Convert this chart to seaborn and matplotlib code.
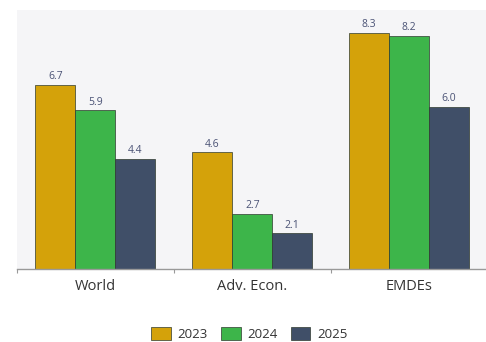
import matplotlib
matplotlib.use("Agg")
import matplotlib.pyplot as plt
import seaborn as sns
import pandas as pd
from matplotlib.ticker import FixedLocator

# Growth by economy group and year
regions = ["World", "Adv. Econ.", "EMDEs"]
years = ["2023", "2024", "2025"]
values_2023 = [6.7, 4.6, 8.3]
values_2024 = [5.9, 2.7, 8.2]
values_2025 = [4.4, 2.1, 6.0]

colors = ["#D4A20A", "#3DB54A", "#404F68"]

rows = []
for yr, vals in zip(years, [values_2023, values_2024, values_2025]):
    for reg, v in zip(regions, vals):
        rows.append({"region": reg, "year": yr, "value": v})
df = pd.DataFrame(rows)

sns.set_theme(style="white")
plt.rcParams["font.family"] = ["Open Sans", "DejaVu Sans"]

fig = plt.figure(figsize=(4.86, 3.42), dpi=100)
ax = fig.add_axes([0.035, 0.2135, 0.965, 0.757])
ax.set_facecolor("#F5F5F7")

sns.barplot(data=df, x="region", y="value", hue="year", order=regions,
            hue_order=years, palette=colors, width=0.765,
            edgecolor="#2f3a2f", linewidth=0.5, saturation=1, ax=ax)

for cont in ax.containers:
    ax.bar_label(cont, fmt="%.1f", padding=2, fontsize=7.5, color="#4A5275")

ax.set_ylim(1, 9)
ax.set_xlim(-0.5, 2.49)
ax.set_xlabel("")
ax.set_ylabel("")
ax.set_yticks([])

ax.tick_params(axis="x", which="major", length=0, labelsize=10.5,
               labelcolor="#333333", pad=7)
ax.xaxis.set_minor_locator(FixedLocator([-0.5, 0.5, 1.5]))
ax.tick_params(axis="x", which="minor", length=3, color="#999999", width=0.8,
               direction="out", bottom=True)

for side in ["top", "right", "left"]:
    ax.spines[side].set_visible(False)
ax.spines["bottom"].set_color("#999999")
ax.spines["bottom"].set_linewidth(1.0)

leg = ax.legend(loc="upper center", bbox_to_anchor=(0.5 - 0.005, -0.18),
                ncol=3, frameon=False, fontsize=9.5, handlelength=1.5,
                handleheight=1.1, columnspacing=1.0, handletextpad=0.5)
for t in leg.get_texts():
    t.set_color("#333333")

fig.savefig("out.png", dpi=100, facecolor="white")
